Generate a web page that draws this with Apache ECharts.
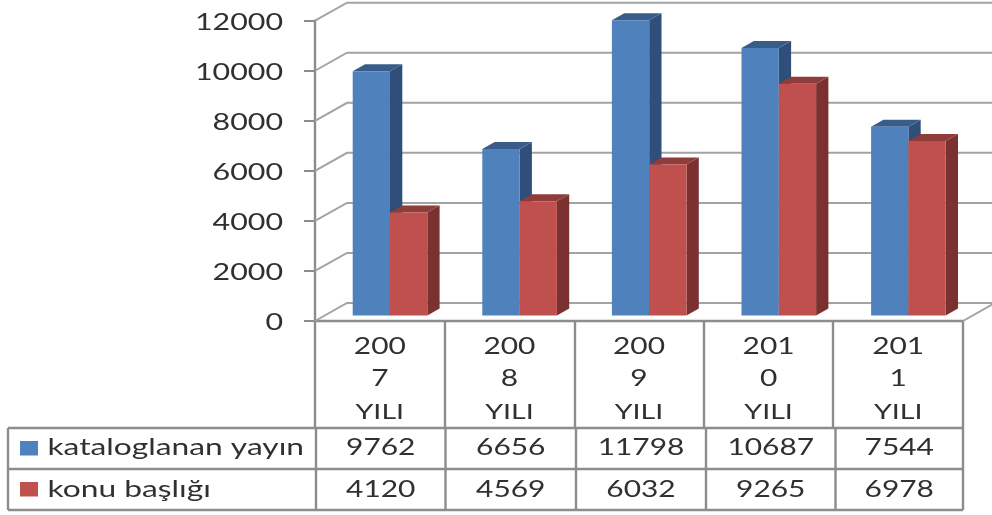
<!DOCTYPE html>
<html><head><meta charset="utf-8">
<style>html,body{margin:0;padding:0;background:#fff}#c{width:992px;height:515px}</style>
<script src="https://cdn.jsdelivr.net/npm/echarts@6/dist/echarts.min.js"></script>
</head><body><div id="c"></div>
<script>
var categories = ['200\n7\nYILI','200\n8\nYILI','200\n9\nYILI','201\n0\nYILI','201\n1\nYILI'];
var seriesNames = ['kataloglanan yayın','konu başlığı'];
var yayin = [9762,6656,11798,10687,7544];
var konu = [4120,4569,6032,9265,6978];
var yTicks = [0,2000,4000,6000,8000,10000,12000];
var GRAY = '#8c8c8c', TEXT = '#303030', FONT = 'Lato, sans-serif';
var COL = [{f:'#4f81bd',s:'#2f4f7a',t:'#385d8a'},{f:'#c0504d',s:'#7a3130',t:'#8f3c3a'}];
var DX = 32, DY = 18;          // wall depth
var BDX = 12.3, BDY = 7;       // bar depth

var chart = echarts.init(document.getElementById('c'), null, {renderer:'canvas'});

function label(t,x,y,fs,sx,al){
  return {type:'text',x:x,y:y,scaleX:sx,silent:true,
    style:{text:t,fill:TEXT,font:fs+'px '+FONT,textAlign:al||'center',textVerticalAlign:'middle'}};
}
function barRender(idx){
  return function(params, api){
    var cat = api.value(0), v = api.value(1);
    var top = api.coord([cat, v]), base = api.coord([cat, 0]);
    var catW = api.size([1,0])[0];
    var w = catW * 0.2878;
    var x0 = base[0] - catW/2 + catW*0.2909 + idx*w;
    var x1 = x0 + w;
    var yb = base[1] - 5.5, yt = top[1] - 5.5;
    var c = COL[idx];
    return {type:'group', children:[
      {type:'polygon', shape:{points:[[x1,yb],[x1+BDX,yb-BDY],[x1+BDX,yt-BDY],[x1,yt]]}, style:{fill:c.s}},
      {type:'polygon', shape:{points:[[x0,yt],[x0+BDX,yt-BDY],[x1+BDX,yt-BDY],[x1,yt]]}, style:{fill:c.t}},
      {type:'rect', shape:{x:x0,y:yt,width:w,height:yb-yt}, style:{fill:c.f}}
    ]};
  };
}
function wallRender(params, api){
  var v = api.value(0);
  var p = api.coord([0, v]);
  var x0 = p[0] - api.size([1,0])[0]/2;
  return {type:'group',children:[
    {type:'polyline', shape:{points:[[x0,p[1]],[x0+DX,p[1]-DY],[992,p[1]-DY]]}, style:{stroke:'#a3a3a3',lineWidth:2,fill:null}},
    label(String(v),283,p[1]+2,23,1.32,'right')
  ]};
}
function floorRender(params, api){
  var p = api.coord([4, 0]);
  var x1 = p[0] + api.size([1,0])[0]/2;
  return {type:'line', shape:{x1:x1,y1:p[1],x2:x1+DX,y2:p[1]-DY}, style:{stroke:'#a3a3a3',lineWidth:2}};
}
function catRender(params, api){
  var p = api.coord([api.value(0), 0]);
  var lines = categories[api.value(0)].split('\n');
  return {type:'group',children:lines.map(function(t,i){
    return label(t, p[0], [347,379,412][i], i===2?22:23, 1.3);
  })};
}

// data table
var TL = 8, TR = 963, Y0 = 321, Y1 = 428, Y2 = 469, Y3 = 510;
var upperX = [315,445,575,704,833,963], lowerX = [316,445.5,576,706,835.5,963];
var g = [];
function ln(x1,y1,x2,y2){ g.push({type:'line',silent:true,shape:{x1:x1,y1:y1,x2:x2,y2:y2},style:{stroke:GRAY,lineWidth:2.4}}); }
function tx(t,x,y,fs,sx,al){ var o=label(t,x,y,fs,sx,al); g.push(o); }
ln(TL,Y1,TR,Y1); ln(TL,Y2,TR,Y2); ln(TL,Y3,TR,Y3); ln(TL,Y1,TL,Y3);
upperX.forEach(function(x){ ln(x,Y0,x,Y1); });
lowerX.forEach(function(x){ ln(x,Y1,x,Y3); });
[yayin,konu].forEach(function(arr,r){
  var ym = r===0?448:490;
  arr.forEach(function(v,i){ tx(String(v),(lowerX[i]+lowerX[i+1])/2,ym,23,1.3); });
  g.push({type:'rect',silent:true,shape:{x:20,y:r===0?441:482,width:18,height:14.5},style:{fill:COL[r].f}});
  tx(seriesNames[r],47.5,ym,23,1.38,'left');
});

chart.setOption({
  animation:false,
  grid:{left:315,right:29,top:20.7,bottom:194,containLabel:false},
  xAxis:{type:'category',data:categories,boundaryGap:true,
    axisLine:{lineStyle:{color:GRAY,width:2.4}},axisTick:{show:false},
    axisLabel:{show:false},splitLine:{show:false}},
  yAxis:{type:'value',min:0,max:12000,interval:2000,
    axisLine:{show:true,lineStyle:{color:GRAY,width:2.4}},
    axisTick:{show:true,length:11,lineStyle:{color:GRAY,width:2}},
    axisLabel:{show:false},splitLine:{show:false}},
  series:[
    {type:'custom',name:'wall',z:1,silent:true,renderItem:wallRender,encode:{y:0},data:yTicks.map(function(v){return [v];}),clip:false},
    {type:'custom',name:'floor',z:1,silent:true,renderItem:floorRender,data:[[0]],clip:false},
    {type:'custom',name:'kategori',z:1,silent:true,renderItem:catRender,encode:{x:0},data:categories.map(function(c,i){return [i];}),clip:false},
    {type:'custom',name:seriesNames[0],z:2,renderItem:barRender(0),encode:{x:0,y:1},data:yayin.map(function(v,i){return [i,v];}),clip:false},
    {type:'custom',name:seriesNames[1],z:3,renderItem:barRender(1),encode:{x:0,y:1},data:konu.map(function(v,i){return [i,v];}),clip:false}
  ],
  graphic:g
});
</script></body></html>
